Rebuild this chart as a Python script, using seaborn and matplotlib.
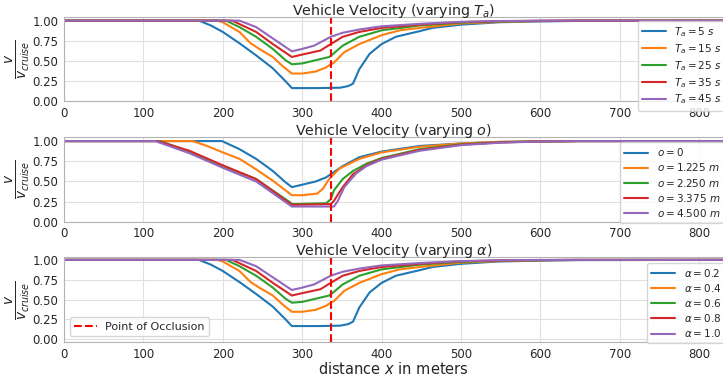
import pandas as pd
import numpy as np
import matplotlib
matplotlib.use("Agg")
import matplotlib.pyplot as plt
import seaborn as sns

# velocity profiles (v / v_cruise against distance x)
ta_labels = [r"$T_a = 5\ s$", r"$T_a = 15\ s$", r"$T_a = 25\ s$", r"$T_a = 35\ s$", r"$T_a = 45\ s$"]
ta_x = [
    [0, 170, 185, 200, 221, 242, 263, 279, 287, 300, 320, 348, 358, 364, 372, 385, 400, 418, 448, 464, 500, 548, 600, 650, 830],
    [0, 193, 200, 221, 235, 246, 263, 275, 287, 300, 317, 330, 336, 340, 353, 372, 400, 423, 448, 500, 550, 600, 650, 830],
    [0, 204, 221, 242, 263, 279, 287, 300, 317, 334, 338, 351, 372, 400, 448, 500, 550, 600, 650, 830],
    [0, 212, 242, 263, 287, 300, 323, 336, 351, 372, 400, 448, 500, 550, 600, 650, 830],
    [0, 221, 242, 263, 287, 300, 315, 336, 351, 372, 400, 448, 500, 550, 600, 650, 830],
]
ta_v = [
    [1.0, 1.0, 0.94, 0.86, 0.72, 0.57, 0.41, 0.25, 0.165, 0.165, 0.165, 0.17, 0.19, 0.22, 0.40, 0.59, 0.71, 0.80, 0.87, 0.91, 0.95, 0.98, 0.99, 0.997, 1.0],
    [1.0, 1.0, 0.98, 0.86, 0.72, 0.65, 0.55, 0.44, 0.345, 0.345, 0.37, 0.42, 0.46, 0.48, 0.61, 0.71, 0.82, 0.88, 0.91, 0.965, 0.985, 0.995, 0.999, 1.0],
    [1.0, 1.0, 0.92, 0.80, 0.65, 0.51, 0.46, 0.47, 0.51, 0.55, 0.58, 0.69, 0.80, 0.88, 0.94, 0.975, 0.99, 0.997, 1.0, 1.0],
    [1.0, 1.0, 0.86, 0.71, 0.55, 0.58, 0.63, 0.71, 0.80, 0.86, 0.91, 0.95, 0.982, 0.993, 0.998, 1.0, 1.0],
    [1.0, 1.0, 0.92, 0.78, 0.62, 0.65, 0.69, 0.80, 0.85, 0.89, 0.93, 0.96, 0.985, 0.995, 0.999, 1.0, 1.0],
]

o_labels = [r"$o = 0$", r"$o = 1.225\ m$", r"$o = 2.250\ m$", r"$o = 3.375\ m$", r"$o = 4.500\ m$"]
o_x = [
    [0, 199, 221, 242, 263, 279, 287, 300, 317, 330, 336, 351, 372, 400, 448, 500, 550, 600, 650, 830],
    [0, 162, 180, 200, 221, 242, 263, 279, 287, 300, 319, 326, 334, 347, 372, 400, 448, 500, 550, 600, 650, 830],
    [0, 121, 158, 200, 242, 285, 287, 330, 336, 340, 351, 364, 381, 400, 448, 500, 550, 600, 650, 830],
    [0, 118, 158, 200, 242, 287, 336, 340, 351, 364, 381, 400, 448, 500, 550, 600, 650, 830],
    [0, 115, 158, 200, 242, 287, 340, 345, 353, 368, 381, 400, 448, 500, 550, 600, 650, 830],
]
o_v = [
    [1.0, 1.0, 0.90, 0.78, 0.63, 0.49, 0.43, 0.46, 0.50, 0.55, 0.59, 0.69, 0.80, 0.87, 0.94, 0.97, 0.99, 0.997, 1.0, 1.0],
    [1.0, 1.0, 0.94, 0.86, 0.78, 0.65, 0.51, 0.39, 0.33, 0.33, 0.35, 0.41, 0.53, 0.66, 0.78, 0.86, 0.93, 0.97, 0.99, 0.997, 1.0, 1.0],
    [1.0, 1.0, 0.87, 0.69, 0.53, 0.24, 0.22, 0.23, 0.28, 0.39, 0.53, 0.63, 0.72, 0.79, 0.90, 0.96, 0.985, 0.995, 1.0, 1.0],
    [1.0, 1.0, 0.88, 0.70, 0.53, 0.21, 0.22, 0.26, 0.43, 0.59, 0.70, 0.78, 0.89, 0.955, 0.985, 0.995, 1.0, 1.0],
    [1.0, 1.0, 0.85, 0.67, 0.50, 0.19, 0.19, 0.26, 0.43, 0.60, 0.69, 0.77, 0.88, 0.95, 0.98, 0.995, 1.0, 1.0],
]

alpha_labels = [r"$\alpha = 0.2$", r"$\alpha = 0.4$", r"$\alpha = 0.6$", r"$\alpha = 0.8$", r"$\alpha = 1.0$"]
# the alpha panel looks identical to the T_a panel
alpha_x = ta_x
alpha_v = ta_v

occlusion_x = 336


def to_frame(labels, xs, vs):
    rows = []
    for lab, x, v in zip(labels, xs, vs):
        rows.append(pd.DataFrame({"x": x, "v": v, "label": lab}))
    return pd.concat(rows, ignore_index=True)


sns.set_style("whitegrid", {"axes.edgecolor": "0.7", "grid.color": "0.88"})
plt.rcParams["mathtext.fontset"] = "dejavusans"

fig, axes = plt.subplots(3, 1, figsize=(7.23, 3.77), dpi=100)
fig.subplots_adjust(left=0.0885, right=1.0, top=0.956, bottom=0.092, hspace=0.42)

panels = [
    (r"Vehicle Velocity (varying $T_a$)", ta_labels, ta_x, ta_v, (0, 1.05), (0.871, 0.95)),
    (r"Vehicle Velocity (varying $o$)", o_labels, o_x, o_v, (0, 1.05), (0.844, 0.94)),
    (r"Vehicle Velocity (varying $\alpha$)", alpha_labels, alpha_x, alpha_v, (-0.04, 1.03), (0.885, 0.94)),
]

for i, (title, labels, xs, vs, ylim, leg_pos) in enumerate(panels):
    ax = axes[i]
    df = to_frame(labels, xs, vs)
    sns.lineplot(data=df, x="x", y="v", hue="label", hue_order=labels,
                 palette="tab10", linewidth=1.5, errorbar=None, ax=ax)
    handles, labs = ax.get_legend_handles_labels()
    occ = ax.axvline(occlusion_x, color="red", linestyle="--", linewidth=1.5,
                     label="Point of Occlusion")
    ax.set_xlim(0, 830)
    ax.set_ylim(*ylim)
    ax.set_yticks([0, 0.25, 0.5, 0.75, 1.0])
    ax.set_xticks(range(0, 900, 100))
    ax.tick_params(labelsize=8.5, pad=0.5)
    ax.set_title(title, fontsize=10.3, pad=1.5)
    ax.set_ylabel(r"$\frac{v}{v_{cruise}}$", fontsize=14)
    ax.yaxis.set_label_coords(-0.048, 0.5)
    ax.set_xlabel("")
    leg = ax.legend(handles, labs, loc="upper left", bbox_to_anchor=leg_pos,
                    borderaxespad=0, fontsize=7.5, labelspacing=0.3,
                    handlelength=2.3, frameon=True)
    if i == 2:
        ax.add_artist(leg)
        ax.legend([occ], ["Point of Occlusion"], loc="lower left",
                  bbox_to_anchor=(0.009, 0.07), borderaxespad=0, fontsize=8)

axes[2].set_xlabel(r"distance $x$ in meters", fontsize=10.5, labelpad=0)

plt.savefig("out.png", dpi=100)
